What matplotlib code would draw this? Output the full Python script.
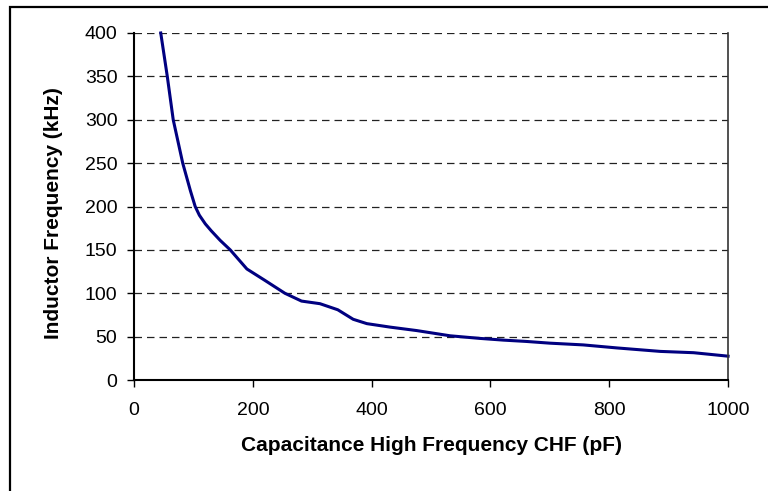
import numpy as np
import matplotlib.pyplot as plt
from matplotlib.patches import Rectangle

plt.rcParams['font.family'] = ['Liberation Sans', 'DejaVu Sans']

# CHF capacitance [pF] vs inductor frequency [kHz]
chf_pf = [45, 56, 66, 82, 95, 103, 110, 120, 130, 145, 162, 190, 220, 254, 282, 313, 343,
          369, 392, 431, 476, 532, 582, 622, 660, 700, 756, 813, 886, 942, 1000]
freq_khz = [400, 350, 300, 250, 218, 200, 190, 180, 172, 161, 150, 128, 115, 100, 91, 88, 81,
            70, 65, 61, 57, 51, 48, 46, 44.5, 42.5, 40.5, 37, 33, 31.5, 27.5]

x_ticks = [0, 200, 400, 600, 800, 1000]
y_ticks = [0, 50, 100, 150, 200, 250, 300, 350, 400]

fig = plt.figure(figsize=(7.68, 4.91), dpi=100)
ax = fig.add_axes([0.1745, 0.226, 0.7735, 0.7068])

ax.plot(chf_pf, freq_khz, color='#000080', lw=2.2, solid_joinstyle='round', clip_on=False)

ax.set_xlim(0, 1000)
ax.set_ylim(0, 400)
ax.set_xticks(x_ticks)
ax.set_yticks(y_ticks)
ax.tick_params(axis='both', direction='out', length=5, width=1, labelsize=14)
ax.tick_params(axis='y', pad=7)
ax.tick_params(axis='x', pad=11)

for y in y_ticks[1:]:
    ax.axhline(y, color='#222222', lw=0.9, dashes=(6, 4), zorder=0)

ax.spines['top'].set_visible(False)
ax.spines['left'].set_linewidth(1.5)
ax.spines['bottom'].set_linewidth(1.5)
ax.spines['right'].set_linewidth(1.2)
ax.spines['right'].set_color('#333333')

ax.set_xlabel('Capacitance High Frequency CHF (pF)', fontsize=15, fontweight='bold', va='center')
ax.set_ylabel('Inductor Frequency (kHz)', fontsize=15, fontweight='bold', va='center')
ax.xaxis.set_label_coords(0.5, -0.19)
ax.yaxis.set_label_coords(-0.135, 0.48)

# outer chart frame (runs off the right and bottom edges)
fig.patches.append(Rectangle((10 / 768, -0.1), 1.2, 1 - 7 / 491 + 0.1,
                             transform=fig.transFigure, fill=False,
                             edgecolor='black', lw=1.6, clip_on=False))

fig.savefig('out.png', dpi=100)
